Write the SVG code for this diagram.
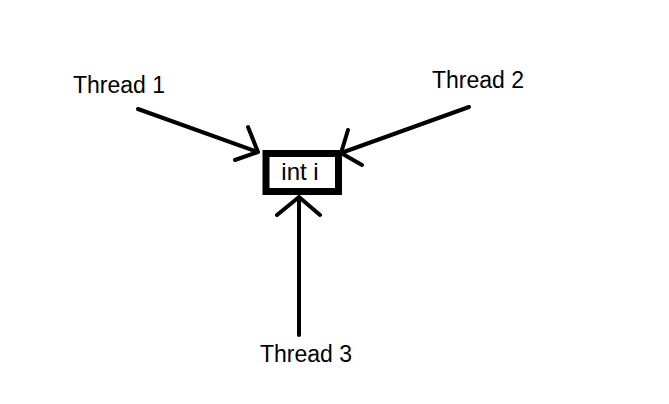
<svg xmlns="http://www.w3.org/2000/svg" width="669" height="404" viewBox="0 0 669 404">
<style>
.lbl{font-family:"Liberation Sans",Arial,sans-serif;font-size:23px;fill:#000}
.ln{stroke:#000;stroke-width:4;fill:none;stroke-linecap:round;stroke-linejoin:round}
</style>
<rect width="669" height="404" fill="#fff"/>
<g id="connectors">
<path class="ln" d="M138 109 L258 152 M248 127 L258 152 L235 160"/>
<path class="ln" d="M469 107 L341 153 M348 130 L341 153 L362 165"/>
<path class="ln" d="M299 335 L299 197 M277 215 L299 197 L320 215"/>
</g>
<g id="intI">
<rect x="266" y="153.5" width="72.5" height="38" fill="#fff" stroke="#000" stroke-width="7"/>
<text class="lbl" x="300" y="180" text-anchor="middle" style="font-size:24px">int i</text>
</g>
<g id="thread1"><text class="lbl" x="73" y="93">Thread 1</text></g>
<g id="thread2"><text class="lbl" x="432" y="88">Thread 2</text></g>
<g id="thread3"><text class="lbl" x="260" y="362">Thread 3</text></g>
</svg>
